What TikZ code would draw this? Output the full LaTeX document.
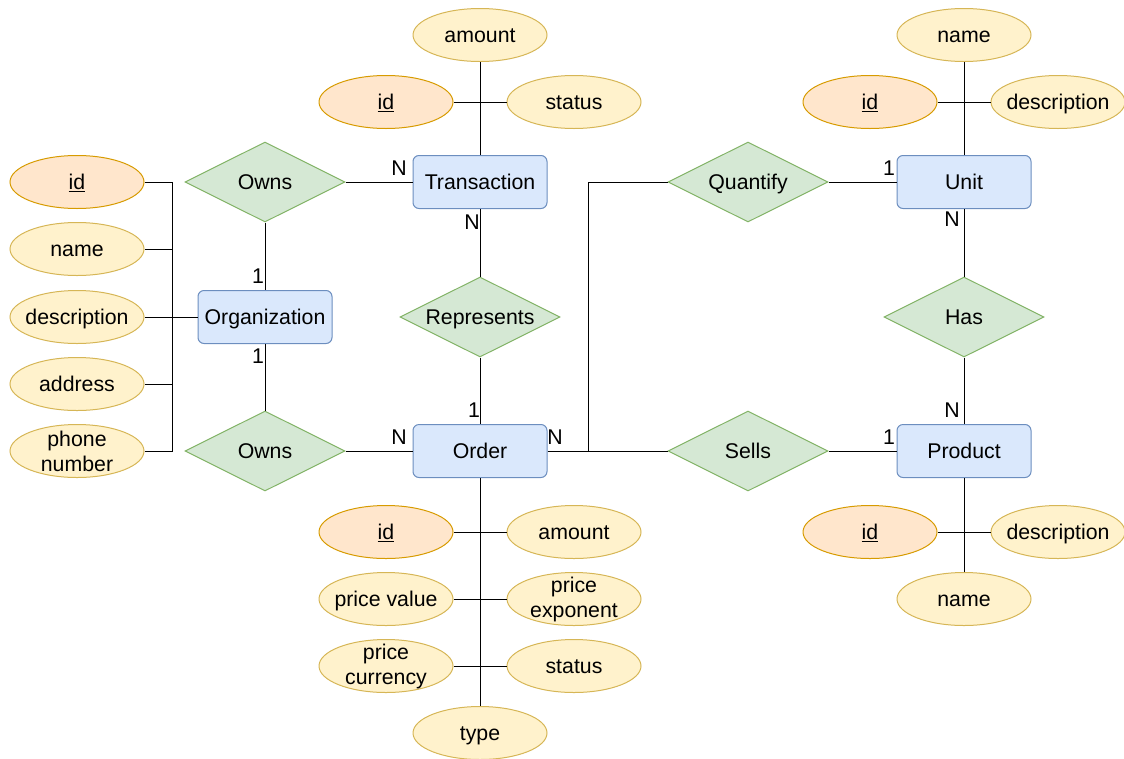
\documentclass[tikz,border=0pt]{standalone}
\usepackage{fontspec}
\setmainfont{Liberation Sans}
\usetikzlibrary{shapes.geometric}
\definecolor{entfill}{HTML}{DAE8FC}
\definecolor{entdraw}{HTML}{6C8EBF}
\definecolor{relfill}{HTML}{D5E8D4}
\definecolor{reldraw}{HTML}{82B366}
\definecolor{attfill}{HTML}{FFF2CC}
\definecolor{attdraw}{HTML}{D6B656}
\definecolor{keyfill}{HTML}{FFE6CC}
\definecolor{keydraw}{HTML}{D79B00}
\tikzset{
  every node/.style={font=\fontsize{21.3}{25}\selectfont, align=center},
  oneline/.style={text height=15.2pt, text depth=0pt},
  entity/.style={rectangle, rounded corners=6pt, fill=entfill, draw=entdraw,
    line width=1pt, minimum width=134pt, minimum height=53pt, inner sep=0pt, oneline},
  rel/.style={diamond, aspect=2, fill=relfill, draw=reldraw, line width=1pt,
    minimum width=160pt, minimum height=80pt, inner sep=0pt, oneline},
  attrshape/.style={ellipse, fill=attfill, draw=attdraw, line width=1pt,
    minimum width=134pt, minimum height=53pt, inner xsep=-14pt, inner ysep=-14pt},
  attr/.style={attrshape, oneline},
  attrtwo/.style={attrshape},
  keyattr/.style={attr, fill=keyfill, draw=keydraw},
  card/.style={inner sep=0pt, oneline},
  link/.style={draw=black, line width=1pt}
}
\begin{document}
\begin{tikzpicture}[x=1pt, y=-1pt]
\useasboundingbox (0,0) rectangle (1124,758);

% entities
\node[entity] (trans) at (480,182) {Transaction};
\node[entity] (unit)  at (964,182) {Unit};
\node[entity] (org)   at (265,317) {Organization};
\node[entity] (ord)   at (480,451) {Order};
\node[entity] (prod)  at (964,451) {Product};

% relationships
\node[rel] (owns1) at (265,182) {Owns};
\node[rel] (rep)   at (480,317) {Represents};
\node[rel] (quant) at (748,182) {Quantify};
\node[rel] (has)   at (964,317) {Has};
\node[rel] (owns2) at (265,451) {Owns};
\node[rel] (sells) at (748,451) {Sells};

% transaction attributes
\node[attr]    (tamount) at (480,35)  {amount};
\node[keyattr] (tid)     at (386,102) {\underline{id}};
\node[attr]    (tstatus) at (574,102) {status};

% unit attributes
\node[attr]    (uname) at (964,35)   {name};
\node[keyattr] (uid)   at (870,102)  {\underline{id}};
\node[attr]    (udesc) at (1058,102) {description};

% organization attributes
\node[keyattr] (gid)    at (77,182) {\underline{id}};
\node[attr]    (gname)  at (77,249) {name};
\node[attr]    (gdesc)  at (77,317) {description};
\node[attr]    (gaddr)  at (77,384) {address};
\node[attrtwo] (gphone) at (77,451) {phone\\number};

% order attributes
\node[keyattr] (oid)    at (386,532) {\underline{id}};
\node[attr]    (oamt)   at (574,532) {amount};
\node[attr]    (oval)   at (386,599) {price value};
\node[attrtwo] (oexp)   at (574,599) {price\\exponent};
\node[attrtwo] (ocur)   at (386,666) {price\\currency};
\node[attr]    (ostat)  at (574,666) {status};
\node[attr]    (otype)  at (480,733) {type};

% product attributes
\node[keyattr] (pid)   at (870,532)  {\underline{id}};
\node[attr]    (pdesc) at (1058,532) {description};
\node[attr]    (pname) at (964,599)  {name};

% attribute links
\draw[link] (tamount) -- (trans);
\draw[link] (tid) -| (trans);
\draw[link] (tstatus) -| (trans);

\draw[link] (uname) -- (unit);
\draw[link] (uid) -| (unit);
\draw[link] (udesc) -| (unit);

\coordinate (bus) at (172,317);
\draw[link] (gid) -| (bus);
\draw[link] (gname) -| (bus);
\draw[link] (gdesc) -- (bus);
\draw[link] (gaddr) -| (bus);
\draw[link] (gphone) -| (bus);
\draw[link] (bus) -- (org);

\draw[link] (ord) -- (otype);
\draw[link] (oid) -| (ord);
\draw[link] (oamt) -| (ord);
\draw[link] (oval) -| (ord);
\draw[link] (oexp) -| (ord);
\draw[link] (ocur) -| (ord);
\draw[link] (ostat) -| (ord);

\draw[link] (prod) -- (pname);
\draw[link] (pid) -| (prod);
\draw[link] (pdesc) -| (prod);

% relationship links
\draw[link] (owns1) -- (trans);
\draw[link] (owns1) -- (org);
\draw[link] (org) -- (owns2);
\draw[link] (owns2) -- (ord);
\draw[link] (trans) -- (rep);
\draw[link] (rep) -- (ord);
\draw[link] (ord) -- (sells);
\draw[link] (sells) -- (prod);
\draw[link] (quant) -- (unit);
\draw[link] (unit) -- (has);
\draw[link] (has) -- (prod);
\coordinate (qbend) at (588,451);
\draw[link] (ord.east) -- (qbend) |- (quant);

% cardinalities
\node[card] (c1)  at (399,168) {N};
\node[card] (c2)  at (472,222) {N};
\node[card] (c3)  at (258,276) {1};
\node[card] (c4)  at (258,356) {1};
\node[card] (c5)  at (399,437) {N};
\node[card] (c6)  at (474,410) {1};
\node[card] (c7)  at (555,437) {N};
\node[card] (c8)  at (889,168) {1};
\node[card] (c9)  at (952,219) {N};
\node[card] (c10) at (952,410) {N};
\node[card] (c11) at (889,437) {1};
\end{tikzpicture}
\end{document}
